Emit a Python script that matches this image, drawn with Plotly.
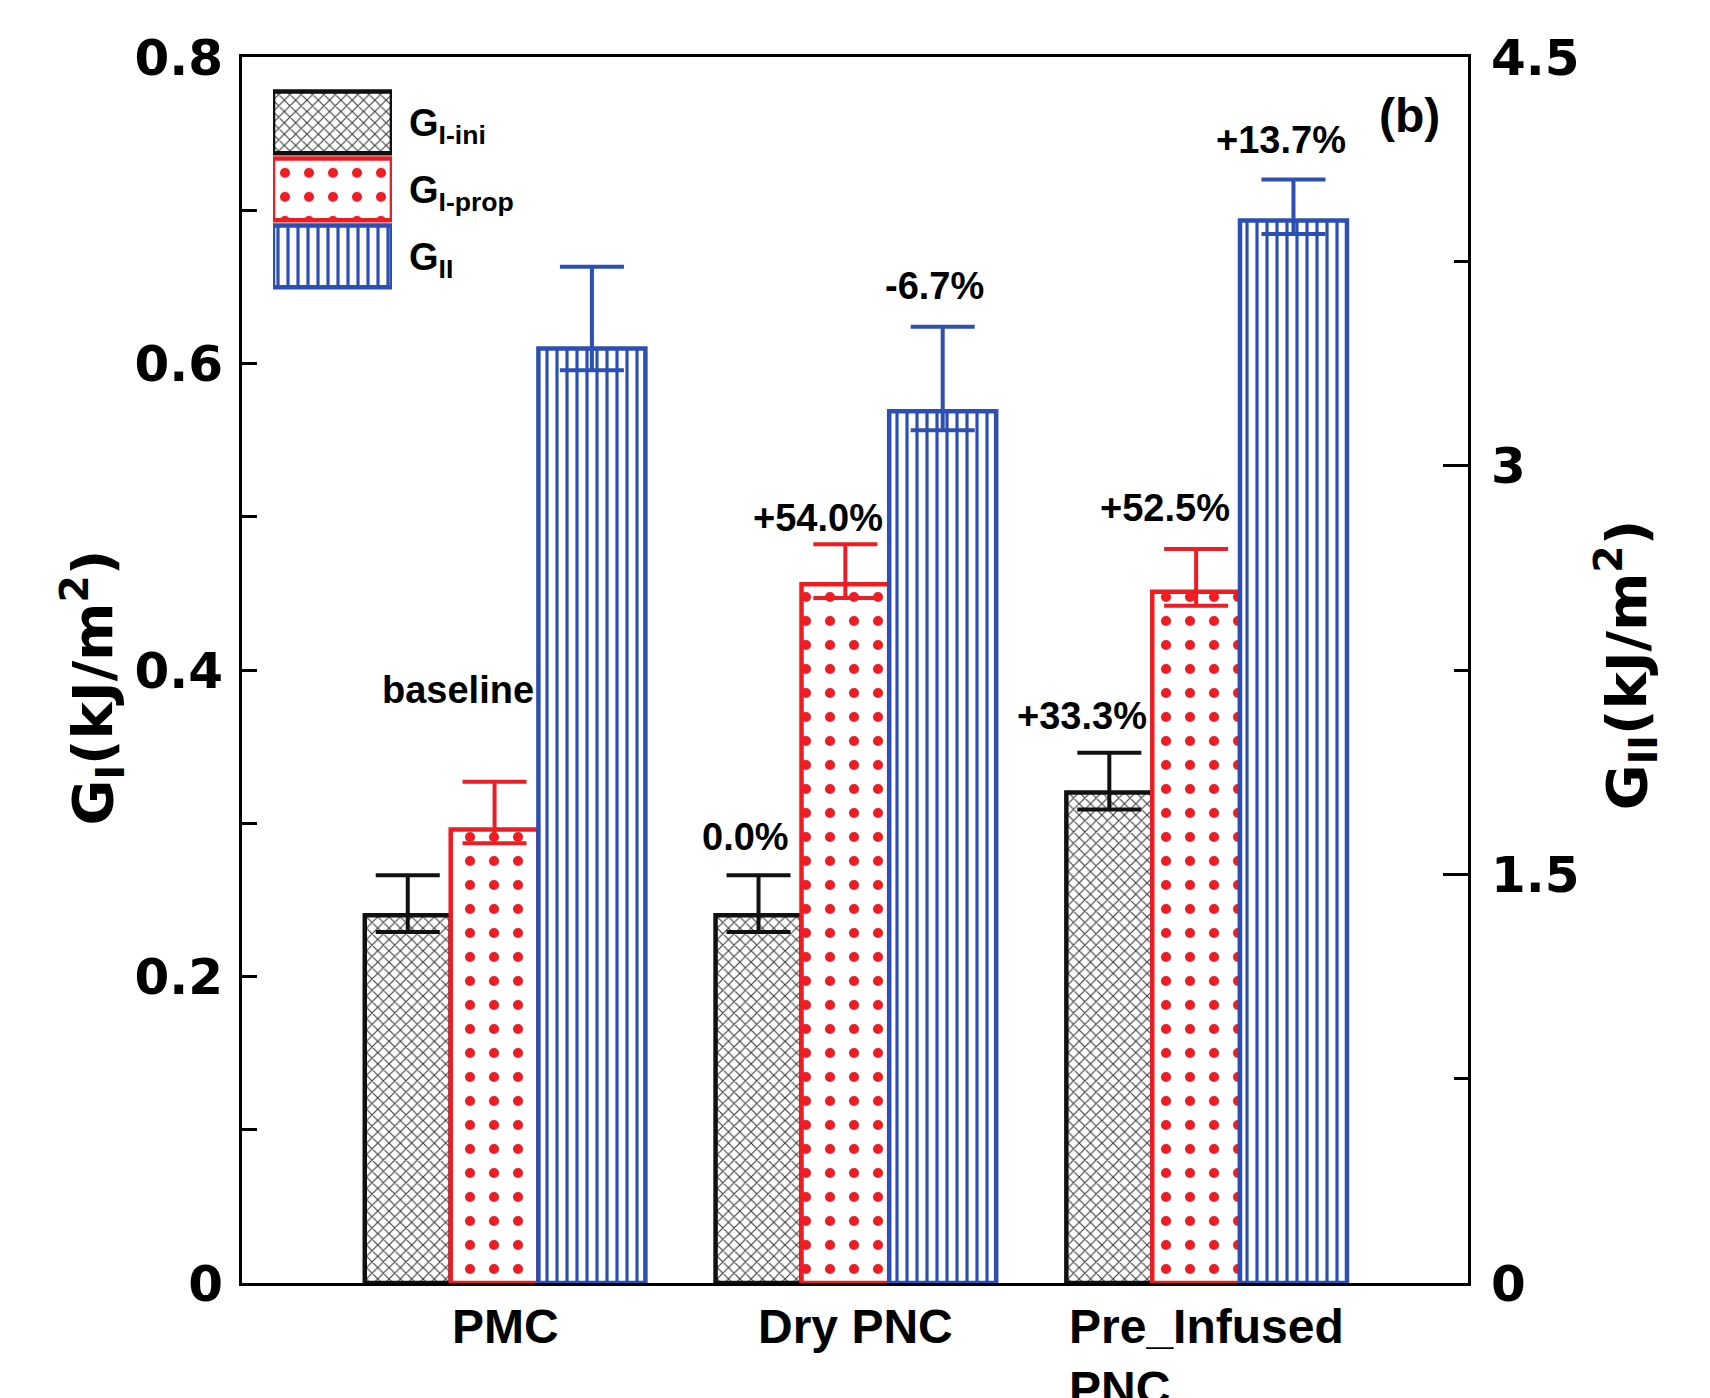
import plotly.graph_objects as go

# ---------------- data ----------------
categories = ["PMC", "Dry PNC", "Pre_Infused<br>PNC"]
series_names = ["G<sub>I-ini</sub>", "G<sub>I-prop</sub>", "G<sub>II</sub>"]

g_ini = [0.240, 0.240, 0.320]
g_ini_err_plus = [0.026, 0.026, 0.026]
g_ini_err_minus = [0.011, 0.011, 0.011]

g_prop = [0.296, 0.456, 0.451]
g_prop_err_plus = [0.031, 0.026, 0.028]
g_prop_err_minus = [0.009, 0.009, 0.009]

g_ii = [3.43, 3.20, 3.90]
g_ii_err_plus = [0.30, 0.31, 0.15]
g_ii_err_minus = [0.08, 0.07, 0.05]

# percentage labels: text, x (category units), y, axis
pct_text = ["baseline", "0.0%", "+33.3%", "+54.0%", "+52.5%", "-6.7%", "+13.7%"]
pct_x = [-0.134, 0.684, 1.644, 0.892, 1.881, 1.224, 2.212]
pct_y = [0.387, 0.291, 0.370, 0.499, 0.506, 3.661, 4.195]
pct_axis = ["y", "y", "y", "y", "y", "y2", "y2"]

left_ticks = [0, 0.2, 0.4, 0.6, 0.8]
right_ticks = [0, 1.5, 3, 4.5]

# ---------------- styles ----------------
BLACK = "#111111"
RED = "#ee1d23"
BLUE = "#2c4fb3"
BOLD = "Liberation Sans"
WIDE = "DejaVu Sans"

styles = [
    dict(color=BLACK, pattern=dict(shape="x", fgcolor="#3c3c3c", bgcolor="white", size=8,
                                   solidity=0.26, fgopacity=1),
         offset=-0.40, width=0.245),
    dict(color=RED, pattern=dict(shape=".", fgcolor=RED, bgcolor="white", size=24,
                                 solidity=0.14, fgopacity=1),
         offset=-0.155, width=0.25),
    dict(color=BLUE, pattern=dict(shape="|", fgcolor=BLUE, bgcolor="white", size=10,
                                  solidity=0.32, fgopacity=1),
         offset=0.095, width=0.305),
]

fig = go.Figure()

series = [
    (g_ini, g_ini_err_plus, g_ini_err_minus, "y"),
    (g_prop, g_prop_err_plus, g_prop_err_minus, "y"),
    (g_ii, g_ii_err_plus, g_ii_err_minus, "y2"),
]

for (vals, ep, em, yax), st, name in zip(series, styles, series_names):
    fig.add_trace(go.Bar(
        x=categories, y=vals, name=name, yaxis=yax, xaxis="x",
        offset=st["offset"], width=st["width"],
        marker=dict(color="white", pattern=st["pattern"],
                    line=dict(color=st["color"], width=4.5)),
        error_y=dict(type="data", symmetric=False, array=ep, arrayminus=em,
                     color=st["color"], thickness=4, width=32),
        showlegend=False,
    ))

# legend drawn as a tiny helper plot (big patterned swatches)
for st, name in zip(styles, series_names):
    fig.add_trace(go.Bar(
        y=[name], x=[1], orientation="h", xaxis="x3", yaxis="y3",
        width=0.92,
        marker=dict(color="white", pattern=st["pattern"],
                    line=dict(color=st["color"], width=4.5)),
        showlegend=False, hoverinfo="skip",
    ))

annotations = []
for t, x, y, ax in zip(pct_text, pct_x, pct_y, pct_axis):
    annotations.append(dict(text=t, x=x, y=y, xref="x", yref=ax, showarrow=False,
                            font=dict(family=BOLD, size=38, color="black", weight="bold"),
                            xanchor="center", yanchor="middle"))

for i, c in enumerate(categories):
    annotations.append(dict(text=c, x=i, y=-0.0125, xref="x", yref="paper", showarrow=False,
                            font=dict(family=BOLD, size=48, color="black", weight="bold"),
                            xanchor="center", yanchor="top", align="left"))

annotations.append(dict(text="(b)", x=0.952, y=0.952, xref="paper", yref="paper", showarrow=False,
                        font=dict(family=BOLD, size=48, color="black", weight="bold"),
                        xanchor="center", yanchor="middle"))

annotations.append(dict(text="G<sub>I</sub>(kJ/m<sup>2</sup>)", x=-0.122, y=0.486,
                        xref="paper", yref="paper", showarrow=False, textangle=-90,
                        font=dict(family=WIDE, size=56, color="black", weight="bold"),
                        xanchor="center", yanchor="middle"))
annotations.append(dict(text="G<sub>II</sub>(kJ/m<sup>2</sup>)", x=1.129, y=0.504,
                        xref="paper", yref="paper", showarrow=False, textangle=-90,
                        font=dict(family=WIDE, size=56, color="black", weight="bold"),
                        xanchor="center", yanchor="middle"))

# the page body has an 8px margin; size the figure so the plot area lands
# at x 242..1468, y 57..1283 of the 1710x1398 window
fig.update_layout(
    width=1702, height=1390,
    margin=dict(l=234, r=242, t=49, b=115, autoexpand=False),
    paper_bgcolor="white", plot_bgcolor="white",
    barmode="overlay",
    annotations=annotations,
    xaxis=dict(range=[-0.75, 2.745], showline=True, mirror=True, linecolor="black", linewidth=3,
               showticklabels=False, ticks="", showgrid=False, zeroline=False, fixedrange=True),
    yaxis=dict(range=[0, 0.8], tickvals=left_ticks, ticks="inside", ticklen=15, tickwidth=3,
               tickcolor="black", showline=True, linecolor="black", linewidth=3,
               showgrid=False, zeroline=False, ticklabelstandoff=6,
               minor=dict(ticks="inside", dtick=0.1, ticklen=15, tickwidth=3, tickcolor="black"),
               tickfont=dict(family=WIDE, size=50, color="black", weight="bold")),
    yaxis2=dict(range=[0, 4.5], tickvals=right_ticks, overlaying="y", side="right",
                ticks="inside", ticklen=25, tickwidth=3, tickcolor="black",
                showline=True, linecolor="black", linewidth=3, showgrid=False, zeroline=False,
                ticklabelstandoff=10,
                minor=dict(ticks="inside", dtick=0.75, ticklen=14, tickwidth=3, tickcolor="black"),
                tickfont=dict(family=WIDE, size=50, color="black", weight="bold")),
    xaxis3=dict(domain=[0.0253, 0.1223], anchor="y3", range=[0, 1], visible=False, fixedrange=True),
    yaxis3=dict(domain=[0.810, 0.974], anchor="x3", side="right", autorange="reversed",
                showline=False, showgrid=False, zeroline=False, ticks="", ticklabelstandoff=16,
                tickfont=dict(family=BOLD, size=38, color="black", weight="bold"), fixedrange=True),
)

fig.write_html("out.html")
